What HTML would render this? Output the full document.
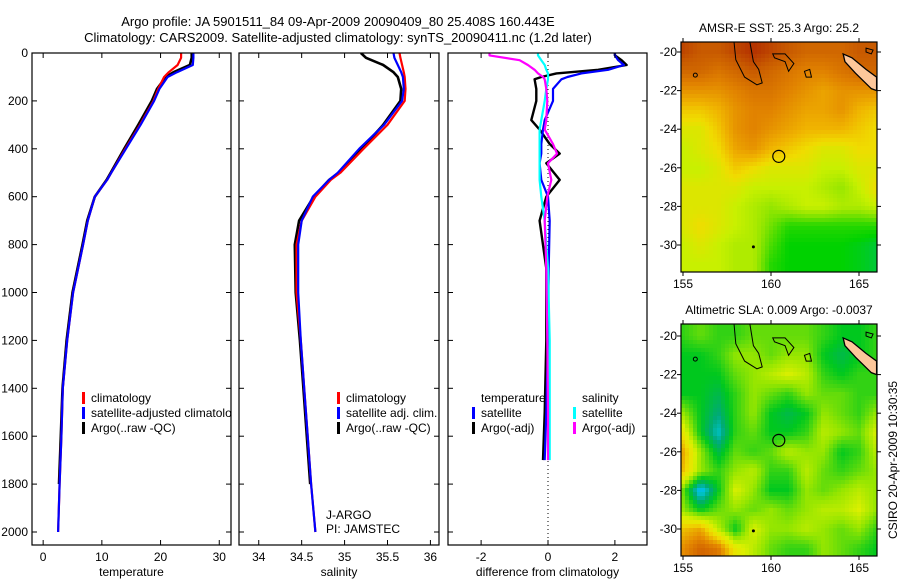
<!DOCTYPE html>
<html><head><meta charset="utf-8"><style>
body{margin:0;background:#fff}
svg{display:block;font-family:"Liberation Sans",sans-serif;font-size:12px}
</style></head><body>
<svg id="c" width="900" height="580" viewBox="0 0 900 580">
<rect width="900" height="580" fill="#fff"/>
<text x="338" y="26" text-anchor="middle" font-size="13">Argo profile: JA 5901511_84 09-Apr-2009 20090409_80 25.408S 160.443E</text>
<text x="338" y="42" text-anchor="middle" font-size="13">Climatology: CARS2009. Satellite-adjusted climatology: synTS_20090411.nc (1.2d later)</text>
<text transform="translate(897,460) rotate(-90)" text-anchor="middle" font-size="12">CSIRO 20-Apr-2009 10:30:35</text>
</svg>
<script>
// ---------- data ----------
const depths = [0,20,50,80,100,150,200,300,400,500,530,600,700,800,1000,1200,1400,1600,1800,2000];
const tempClim = [23.5,23.5,22.9,21.4,20.6,19.6,18.8,16.5,14.0,11.6,10.9,8.8,7.6,6.8,5.1,4.1,3.35,3.1,2.8,2.55];
const tempSat  = [25.6,25.6,25.5,22.8,21.2,19.8,18.9,16.6,14.1,11.6,10.9,8.8,7.6,6.8,5.1,4.1,3.35,3.1,2.8,2.55];
const tempArgo = [25.3,25.3,25.0,22.2,20.9,19.4,18.5,16.2,13.8,11.5,10.8,8.8,7.5,6.7,5.0,4.0,3.3,3.0,2.7,null];
const salClim = [35.64,35.65,35.67,35.69,35.7,35.71,35.7,35.5,35.22,34.95,34.84,34.66,34.5,34.44,34.44,34.49,34.53,34.57,34.61,34.66];
const salSat  = [35.57,35.58,35.62,35.66,35.68,35.69,35.67,35.46,35.17,34.92,34.82,34.63,34.5,34.46,34.46,34.49,34.53,34.57,34.61,34.66];
const salArgo = [35.19,35.25,35.45,35.57,35.62,35.66,35.65,35.45,35.2,34.93,34.82,34.64,34.47,34.42,34.43,34.48,34.52,34.56,34.6,null];
const diffDepths = [0,10,30,50,70,85,100,110,150,200,280,320,380,420,460,530,600,700,900,1200,1500,1700];
const diffTempSat  = [2.0,2.0,2.1,2.27,1.8,1.0,0.58,0.4,0.15,0.15,-0.1,-0.15,-0.2,-0.2,-0.25,-0.2,0,0.05,0.02,0,-0.05,-0.1];
const diffTempArgo = [2.0,2.0,2.2,2.35,1.5,0.25,-0.2,-0.4,-0.35,-0.35,-0.5,-0.25,0.05,0.35,-0.05,0.35,-0.05,-0.25,-0.05,-0.05,-0.1,-0.15];
const diffSalSat  = [-0.3,-0.3,-0.2,-0.1,-0.05,0,0,0,-0.05,-0.1,-0.2,-0.25,-0.25,-0.25,-0.25,-0.25,-0.2,-0.1,0,0.05,0.05,0.05];
const diffSalArgo = [-1.75,-1.75,-0.85,-0.6,-0.4,-0.3,-0.15,-0.1,-0.05,-0.02,-0.05,-0.1,0.15,0.27,0.0,0.1,-0.02,-0.1,-0.05,-0.02,0,0];
const depthTicks = [0,200,400,600,800,1000,1200,1400,1600,1800,2000];
const tempTicks = [0,10,20,30];
const salTicks = [34,34.5,35,35.5,36];
const diffTicks = [-2,0,2];
const mapLons = [155,156,157,158,159,160,161,162,163,164,165,166];
const mapLats = [-20,-21,-22,-23,-24,-25,-26,-27,-28,-29,-30,-31];
const sstGrid = [
[.95,.9,.9,.95,1,.95,.9,.85,.85,.85,.9,.9],
[.85,.85,.8,.85,.9,.85,.8,.75,.75,.8,.85,.85],
[.7,.7,.7,.75,.8,.8,.75,.7,.65,.7,.7,.7],
[.55,.55,.6,.7,.75,.75,.7,.65,.65,.7,.6,.55],
[.45,.45,.55,.7,.75,.7,.65,.6,.6,.6,.55,.5],
[.4,.45,.5,.65,.7,.6,.55,.5,.45,.45,.5,.5],
[.4,.4,.45,.55,.5,.45,.45,.45,.4,.4,.45,.45],
[.45,.45,.45,.45,.4,.4,.4,.4,.35,.3,.4,.5],
[.45,.45,.45,.4,.35,.3,.35,.4,.4,.35,.35,.4],
[.45,.5,.45,.4,.35,.25,.15,.15,.15,.15,.15,.15],
[.4,.45,.4,.35,.35,.2,.1,.1,.1,.1,.08,.05],
[.4,.4,.4,.35,.35,.15,.1,.1,.1,.1,.08,.05]];
const slaGrid = [
[.35,.4,.35,.35,.4,.4,.4,.4,.35,.3,.3,.35],
[.3,.3,.35,.45,.45,.4,.45,.45,.3,.25,.3,.35],
[.3,.3,.3,.4,.45,.5,.55,.5,.35,.3,.35,.35],
[.3,.3,.25,.35,.45,.4,.35,.45,.4,.4,.35,.35],
[.45,.3,.2,.35,.45,.3,.25,.3,.45,.4,.35,.45],
[.6,.3,.12,.35,.4,.3,.3,.35,.5,.45,.4,.55],
[.75,.45,.25,.4,.35,.4,.5,.45,.45,.3,.35,.5],
[.7,.45,.35,.45,.5,.35,.35,.5,.4,.35,.4,.45],
[.4,.05,.3,.55,.45,.3,.3,.45,.4,.45,.5,.45],
[.45,.3,.4,.45,.4,.45,.4,.45,.5,.5,.55,.45],
[.7,.75,.5,.3,.55,.45,.45,.5,.45,.4,.45,.35],
[.8,.9,.85,.6,.5,.4,.35,.35,.45,.4,.35,.3]];
const argoLon = 160.443, argoLat = -25.408;
const mapLonTicks = [155,160,165];
const mapLatTicks = [-20,-22,-24,-26,-28,-30];

// ---------- helpers ----------
const svg = document.getElementById('c');
const NS = 'http://www.w3.org/2000/svg';
function mk(tag, attrs, parent){const e=document.createElementNS(NS,tag);for(const k in attrs)e.setAttribute(k,attrs[k]);(parent||svg).appendChild(e);return e;}
const Y0=53, Y1=545;
const yD = d => 53 + d*0.2395;

function panel(name, x0, x1, vmin, vmax, ticks, label, showY){
  const g = mk('g',{});
  
  
  const xs = v => x0 + (v - vmin)/(vmax - vmin)*(x1 - x0);
  const cid = name+'-clip';
  const cp = mk('clipPath',{id:cid},g); mk('rect',{x:x0,y:Y0,width:x1-x0,height:Y1-Y0},cp);
  const inner = mk('g',{'clip-path':'url(#'+cid+')'},g);
  mk('rect',{x:x0,y:Y0,width:x1-x0,height:Y1-Y0,fill:'none',stroke:'#000','stroke-width':1.2},g);
  depthTicks.forEach(d=>{
    const y=yD(d);
    mk('line',{x1:x0,y1:y,x2:x0+5,y2:y,stroke:'#000'},g);
    mk('line',{x1:x1,y1:y,x2:x1-5,y2:y,stroke:'#000'},g);
    if(showY){const t=mk('text',{x:x0-4,y:y+4,'text-anchor':'end'},g);t.textContent=d;}
  });
  ticks.forEach(v=>{
    const x=xs(v);
    mk('line',{x1:x,y1:Y1,x2:x,y2:Y1-5,stroke:'#000'},g);
    mk('line',{x1:x,y1:Y0,x2:x,y2:Y0+5,stroke:'#000'},g);
    const t=mk('text',{x:x,y:561,'text-anchor':'middle'},g);t.textContent=v;
  });
  const lt=mk('text',{x:(x0+x1)/2,y:576,'text-anchor':'middle'},g);lt.textContent=label;
  return {g:inner, xs};
}
function series(p, dep, vals, color, name, w){
  const pts=[];
  vals.forEach((v,i)=>{ if(v!==null) pts.push(p.xs(v).toFixed(1)+','+yD(dep[i]).toFixed(1)); });
  const pl=mk('polyline',{points:pts.join(' '),fill:'none',stroke:color,'stroke-width':w||2.2,'stroke-linejoin':'round'},p.g);
  
  
}
function legend(g, x, y, items, nameP){
  items.forEach((it,i)=>{
    const yy=y+i*15;
    if(it[1]) mk('rect',{x:x,y:yy-10,width:3,height:12,fill:it[1]},g);
    const t=mk('text',{x:x+(it[1]?9:0),y:yy},g);t.textContent=it[0];
    
    
  });
}

// Temperature
const pT = panel('temperature-panel',32,231,-1.9,32,tempTicks,'temperature',true);
series(pT,depths,tempArgo,'#000','temp-argo-line',2.6);
series(pT,depths,tempClim,'#f00','temp-clim-line');
series(pT,depths,tempSat,'#00f','temp-sat-line');
legend(pT.g,82,402,[['climatology','#f00'],['satellite-adjusted climatology','#00f'],['Argo(..raw -QC)','#000']],'temp-legend');

// Salinity
const pS = panel('salinity-panel',239,439,33.77,36.1,salTicks,'salinity',false);
series(pS,depths,salArgo,'#000','sal-argo-line',2.6);
series(pS,depths,salClim,'#f00','sal-clim-line');
series(pS,depths,salSat,'#00f','sal-sat-line');
legend(pS.g,337,402,[['climatology','#f00'],['satellite adj. clim.','#00f'],['Argo(..raw -QC)','#000']],'sal-legend');
const j1=mk('text',{x:326,y:519},pS.g);j1.textContent='J-ARGO';
const j2=mk('text',{x:326,y:533},pS.g);j2.textContent='PI: JAMSTEC';

// Difference
const pD = panel('difference-panel',448,647,-2.99,2.96,diffTicks,'difference from climatology',false);
mk('line',{x1:pD.xs(0),y1:Y0,x2:pD.xs(0),y2:Y1,stroke:'#000','stroke-dasharray':'1,3'},pD.g);
series(pD,diffDepths,diffTempArgo,'#000','diff-temp-argo-line',2.4);
series(pD,diffDepths,diffTempSat,'#00f','diff-temp-sat-line');
series(pD,diffDepths,diffSalSat,'#0ff','diff-sal-sat-line');
series(pD,diffDepths,diffSalArgo,'#f0f','diff-sal-argo-line');
legend(pD.g,481,402,[['temperature',null]],'diff-legend-head');
legend(pD.g,472,417,[['satellite','#00f'],['Argo(-adj)','#000']],'diff-temp-legend');
legend(pD.g,582,402,[['salinity',null]],'diff-legend-head2');
legend(pD.g,573,417,[['satellite','#0ff'],['Argo(-adj)','#f0f']],'diff-sal-legend');

// ---------- maps ----------
const sstStops=[[0,[0,190,110]],[0.1,[0,210,0]],[0.3,[150,230,0]],[0.4,[200,240,0]],[0.5,[240,220,0]],[0.6,[240,180,0]],[0.75,[225,130,0]],[0.9,[200,90,0]],[1,[180,50,0]]];
const slaStops=[[0,[0,80,255]],[0.1,[0,200,220]],[0.2,[0,170,120]],[0.3,[0,200,30]],[0.45,[150,230,0]],[0.55,[220,240,0]],[0.65,[240,220,0]],[0.8,[230,140,0]],[1,[190,60,0]]];
function cmap(stops,v){
  v=Math.max(0,Math.min(1,v));
  for(let i=1;i<stops.length;i++){ if(v<=stops[i][0]){const a=stops[i-1],b=stops[i],t=(v-a[0])/(b[0]-a[0]);
    return 'rgb('+a[1].map((c,k)=>Math.round(c+(b[1][k]-c)*t)).join(',')+')';}}
  return 'rgb('+stops[stops.length-1][1].join(',')+')';
}
function sample(grid,lon,lat){
  let fx=Math.max(0,Math.min(mapLons.length-1.001,lon-mapLons[0]));
  let fy=Math.max(0,Math.min(mapLats.length-1.001,mapLats[0]-lat));
  const i=Math.floor(fx),j=Math.floor(fy),tx=fx-i,ty=fy-j;
  return grid[j][i]*(1-tx)*(1-ty)+grid[j][i+1]*tx*(1-ty)+grid[j+1][i]*(1-tx)*ty+grid[j+1][i+1]*tx*ty;
}
function map(name,top,bottom,lat20y,lat30y,grid,stops,title){
  const g=mk('g',{});
  
  
  const L=681,R=877;
  const lx=lon=>683+(lon-155)*17.6;
  const ly=lat=>lat20y+(-20-lat)*(lat30y-lat20y)/10;
  const step=4;
  for(let y=top;y<bottom;y+=step){ for(let x=L;x<R;x+=step){
    const lon=155+(x+step/2-683)/17.6, lat=-20-(y+step/2-lat20y)*10/(lat30y-lat20y);
    mk('rect',{x:x,y:y,width:Math.min(step,R-x)+0.3,height:Math.min(step,bottom-y)+0.3,fill:cmap(stops,sample(grid,lon,lat))},g);
  }}
  const cg=mk('g',{fill:'none',stroke:'#000','stroke-width':1},g);
  mk('path',{d:`M${lx(157.9)},${top} L${lx(158)},${ly(-20.4)} L${lx(158.5)},${ly(-21.3)} L${lx(159.2)},${ly(-21.7)} L${lx(159.5)},${ly(-21.6)} L${lx(159.3)},${ly(-20.9)} L${lx(159.0)},${ly(-20.5)} L${lx(158.8)},${top}`},cg);
  mk('path',{d:`M${lx(160.1)},${ly(-20.1)} L${lx(160.8)},${ly(-20.1)} L${lx(161.3)},${ly(-20.6)} L${lx(161.0)},${ly(-21.0)} L${lx(160.8)},${ly(-20.5)} L${lx(160.2)},${ly(-20.3)} Z`},cg);
  mk('path',{d:`M${lx(161.9)},${ly(-21.0)} L${lx(162.2)},${ly(-20.9)} L${lx(162.3)},${ly(-21.3)} L${lx(162.0)},${ly(-21.3)} Z`},cg);
  mk('path',{d:`M${lx(165.4)},${ly(-19.8)} L${lx(165.8)},${ly(-19.9)} L${lx(165.7)},${ly(-20.1)} L${lx(165.4)},${ly(-20.0)} Z`},cg);
  mk('ellipse',{cx:lx(155.7),cy:ly(-21.2),rx:2,ry:2},cg);
  const nc=mk('path',{d:`M${lx(164.1)},${ly(-20.1)} L${lx(164.6)},${ly(-20.3)} L${lx(165.4)},${ly(-20.9)} L${lx(166)},${ly(-21.3)} L${lx(166)},${ly(-22)} L${lx(165.7)},${ly(-21.9)} L${lx(164.8)},${ly(-21.1)} L${lx(164.2)},${ly(-20.5)} Z`,fill:'#fdc79a',stroke:'#000','stroke-width':1.3},g);
  
  
  mk('circle',{cx:lx(159.0),cy:ly(-30.1),r:1.5,fill:'#000'},g);
  const ci=mk('circle',{cx:lx(argoLon),cy:ly(argoLat),r:6,fill:'none',stroke:'#000','stroke-width':1.2},g);
  
  
  mk('rect',{x:L,y:top,width:R-L,height:bottom-top,fill:'none',stroke:'#000','stroke-width':1.2},g);
  mapLonTicks.forEach(v=>{const x=lx(v);mk('line',{x1:x,y1:bottom,x2:x,y2:bottom+4,stroke:'#000'},g);mk('line',{x1:x,y1:top,x2:x,y2:top-4,stroke:'#000'},g);
    const t=mk('text',{x:x,y:bottom+16,'text-anchor':'middle'},g);t.textContent=v;});
  mapLatTicks.forEach(v=>{const y=ly(v);mk('line',{x1:L,y1:y,x2:L-4,y2:y,stroke:'#000'},g);mk('line',{x1:R,y1:y,x2:R+4,y2:y,stroke:'#000'},g);
    const t=mk('text',{x:L-4,y:y+4,'text-anchor':'end'},g);t.textContent=v;});
  const tt=mk('text',{x:779,y:top-10,'text-anchor':'middle'},g);tt.textContent=title;
  
  
}
map('sst-map',42,272,52,245,sstGrid,sstStops,'AMSR-E SST: 25.3 Argo: 25.2');
map('sla-map',324,556,336,529,slaGrid,slaStops,'Altimetric SLA: 0.009 Argo: -0.0037');
</script>
</body></html>
